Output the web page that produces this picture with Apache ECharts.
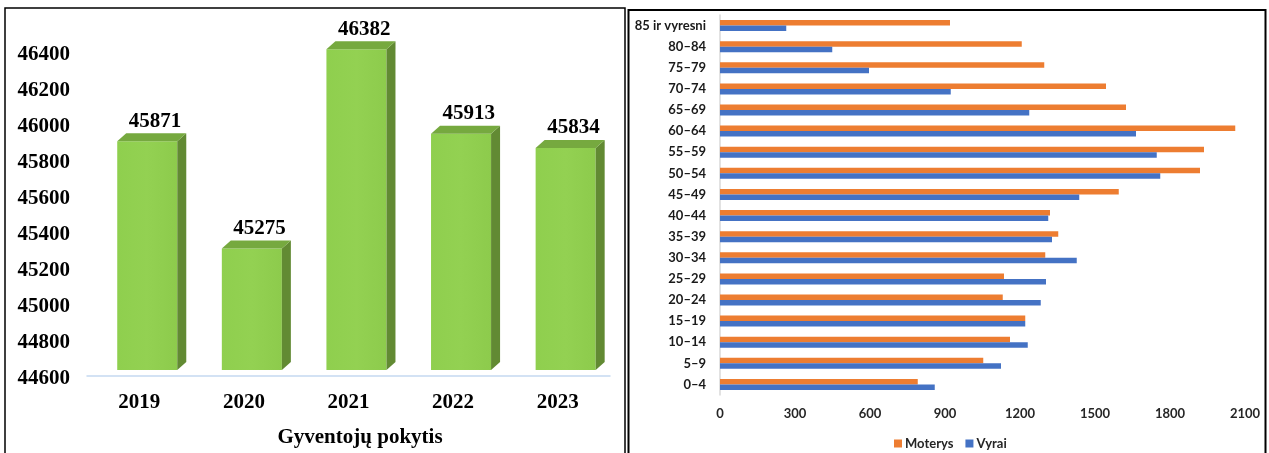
<!DOCTYPE html>
<html>
<head>
<meta charset="utf-8">
<script src="https://cdn.jsdelivr.net/npm/echarts@6/dist/echarts.min.js"></script>
<style>
html,body{margin:0;padding:0;background:#fff;}
#c{width:1269px;height:453px;}
</style>
</head>
<body>
<div id="c"></div>
<script>
// Left chart data
var years = ['2019', '2020', '2021', '2022', '2023'];
var population = [45871, 45275, 46382, 45913, 45834];

// Right chart data
var ageGroups = ['0–4', '5–9', '10–14', '15–19', '20–24', '25–29', '30–34', '35–39', '40–44',
  '45–49', '50–54', '55–59', '60–64', '65–69', '70–74', '75–79', '80–84', '85 ir vyresni'];
var women = [791, 1053, 1160, 1221, 1131, 1136, 1301, 1353, 1320, 1595, 1920, 1936, 2061, 1624, 1544, 1297, 1207, 920];
var men = [859, 1124, 1231, 1221, 1283, 1304, 1427, 1328, 1313, 1437, 1761, 1747, 1664, 1237, 923, 596, 449, 265];

var chart = echarts.init(document.getElementById('c'), null, {renderer: 'canvas'});

var serif = "'Liberation Serif', 'Times New Roman', serif";
var sans = "Lato, 'Open Sans', sans-serif";

function plain(v) { return String(v); }

var option = {
  animation: false,
  backgroundColor: '#ffffff',
  graphic: [
    {type: 'rect', shape: {x: 5, y: 8, width: 620, height: 470}, style: {fill: 'none', stroke: '#000', lineWidth: 1.5}},
    {type: 'rect', shape: {x: 628.5, y: 10, width: 637, height: 470}, style: {fill: 'none', stroke: '#000', lineWidth: 2}},
    {type: 'text', x: 360, y: 438, style: {text: 'Gyventojų pokytis', font: 'bold 21px ' + serif, fill: '#000', textAlign: 'center', textVerticalAlign: 'middle'}}
  ],
  grid: [
    {left: 87, right: 1269 - 610, top: 46, bottom: 453 - 370, containLabel: false},
    {left: 720, right: 1269 - 1245, top: 15, bottom: 453 - 395, containLabel: false}
  ],
  legend: {
    data: ['Moterys', 'Vyrai'],
    left: 889,
    top: 432,
    itemWidth: 8,
    itemHeight: 8,
    itemGap: 12,
    icon: 'rect',
    textStyle: {fontFamily: sans, fontSize: 13, fontWeight: 'bold', color: '#262626', padding: [0, 0, 0, -2]}
  },
  xAxis: [
    {
      gridIndex: 0, type: 'category', data: years,
      offset: 6,
      axisLine: {show: true, lineStyle: {color: '#c5d9f1', width: 1.5}},
      axisTick: {show: false},
      axisLabel: {fontFamily: serif, fontWeight: 'bold', fontSize: 21, color: '#000', margin: 16}
    },
    {
      gridIndex: 1, type: 'value', min: 0, max: 2100, interval: 300,
      axisLine: {show: false},
      axisTick: {show: false},
      splitLine: {show: false},
      axisLabel: {fontFamily: sans, fontSize: 13, fontWeight: 'bold', color: '#262626', margin: 12, formatter: plain}
    }
  ],
  yAxis: [
    {
      gridIndex: 0, type: 'value', min: 44600, max: 46400, interval: 200,
      axisLine: {show: false},
      axisTick: {show: false},
      splitLine: {show: false},
      axisLabel: {fontFamily: serif, fontWeight: 'bold', fontSize: 21, color: '#000', margin: 17,
        verticalAlign: 'top', lineHeight: 17, formatter: plain}
    },
    {
      gridIndex: 1, type: 'category', data: ageGroups,
      axisLine: {show: true, lineStyle: {color: '#d9d9d9', width: 1.5}},
      axisTick: {show: false},
      axisLabel: {fontFamily: sans, fontSize: 13, fontWeight: 'bold', color: '#1a1a1a', margin: 14}
    }
  ],
  series: [
    {
      type: 'custom',
      xAxisIndex: 0, yAxisIndex: 0,
      data: years.map(function (y, i) { return [i, population[i]]; }),
      renderItem: function (params, api) {
        var idx = api.value(0);
        var v = api.value(1);
        var topPt = api.coord([idx, v]);
        var basePt = api.coord([idx, 44600]);
        var band = api.size([1, 0])[0];
        var c = topPt[0];
        var w = band * 0.574;
        var fx0 = c + band * 0.076 - w / 2;
        var fx1 = fx0 + w;
        var ty = topPt[1];
        var by = basePt[1];
        var dx = 9, dy = 8;
        return {
          type: 'group',
          children: [
            {type: 'rect', shape: {x: fx0, y: ty, width: w, height: by - ty},
              style: {fill: new echarts.graphic.LinearGradient(0, 0, 1, 0, [{offset: 0, color: '#8fcf4e'}, {offset: 0.5, color: '#93d152'}, {offset: 1, color: '#8dcb4c'}])}},
            {type: 'polygon', shape: {points: [[fx1, ty], [fx1 + dx, ty - dy], [fx1 + dx, by - dy], [fx1, by]]},
              style: {fill: '#628a33'}},
            {type: 'polygon', shape: {points: [[fx0, ty], [fx0 + dx, ty - dy], [fx1 + dx, ty - dy], [fx1, ty]]},
              style: {fill: '#76a93f'}},
            {type: 'text', x: c + band * 0.15, y: ty - dy - 12,
              style: {text: String(v), font: 'bold 21px ' + serif, fill: '#000', textAlign: 'center', textVerticalAlign: 'middle'}}
          ]
        };
      }
    },
    {
      name: 'Moterys', type: 'bar', xAxisIndex: 1, yAxisIndex: 1,
      data: women, barWidth: 5.5, barGap: '0%',
      itemStyle: {color: '#ed7d31'}
    },
    {
      name: 'Vyrai', type: 'bar', xAxisIndex: 1, yAxisIndex: 1,
      data: men, barWidth: 5.5, barGap: '0%',
      itemStyle: {color: '#4472c4'}
    }
  ]
};
chart.setOption(option);
</script>
</body>
</html>
